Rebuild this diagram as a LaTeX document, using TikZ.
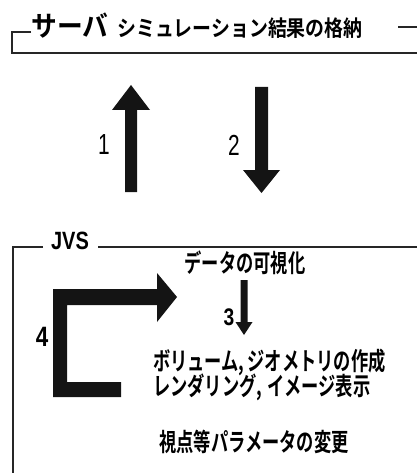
\documentclass[tikz,border=0pt]{standalone}
\usepackage{fontspec}
\newfontfamily\jpwide[FakeStretch=0.86]{Noto Sans CJK JP Bold}
\newfontfamily\jpbig[FakeStretch=0.92]{Noto Sans CJK JP Bold}
\newfontfamily\jpnarrow[FakeStretch=0.69]{Noto Sans CJK JP Bold}
\newfontfamily\latn[FakeStretch=0.72]{Liberation Sans}
\newfontfamily\latnb[FakeStretch=0.8]{Liberation Sans Bold}
\tikzset{
  frame/.style={line width=1.3pt, draw=black!85},
  bigarrow/.style={fill=black!92, draw=none},
  lbl/.style={inner sep=0pt, text=black},
}
\begin{document}
\begin{tikzpicture}[x=1pt,y=-1pt]
\useasboundingbox (0,0) rectangle (417,473);
% server frame
\draw[frame] (31,32) -- (12,32) -- (12,53) -- (417,53);
\draw[frame] (398,27) -- (417,27);
\node[lbl] (srv) at (70,26) {\jpbig\fontsize{28}{30}\selectfont サーバ};
\node[lbl] (sim) at (240,28) {\jpwide\fontsize{22}{24}\selectfont シミュレーション結果の格納};
% arrows 1 and 2
\fill[bigarrow] (125,192) -- (125,110) -- (112,110) -- (131,85) -- (150,110) -- (137,110) -- (137,192) -- cycle;
\fill[bigarrow] (255,87) -- (268,87) -- (268,170) -- (280,170) -- (261.5,193) -- (243,170) -- (255,170) -- cycle;
\node[lbl] (n1) at (104,145) {\latn\fontsize{29}{30}\selectfont 1};
\node[lbl] (n2) at (234,145) {\latn\fontsize{29}{30}\selectfont 2};
% JVS frame
\draw[frame] (43,247) -- (13,247) -- (13,473);
\draw[frame] (98,247) -- (417,247);
\node[lbl] (jvs) at (70,241) {\latnb\fontsize{25}{26}\selectfont JVS};
\node[lbl] (viz) at (245,263) {\jpnarrow\fontsize{25}{26}\selectfont データの可視化};
% arrow 3
\fill[bigarrow] (240.5,280) -- (247.5,280) -- (247.5,322) -- (252.5,322) -- (244,335) -- (235.5,322) -- (240.5,322) -- cycle;
\node[lbl] (n3) at (229,317) {\latnb\fontsize{24}{26}\selectfont 3};
% arrow 4
\fill[bigarrow] (53,289) -- (157,289) -- (157,273) -- (177,297) -- (157,322) -- (157,305) -- (67,305) -- (67,382) -- (121,382) -- (121,397) -- (53,397) -- cycle;
\node[lbl] (n4) at (42,337) {\latnb\fontsize{28}{30}\selectfont 4};
% texts
\node[lbl, anchor=west] (vol) at (153,362) {\jpnarrow\fontsize{25}{26}\selectfont ボリューム,\hspace{3pt}ジオメトリの作成};
\node[lbl, anchor=west] (ren) at (153,387) {\jpnarrow\fontsize{25}{26}\selectfont レンダリング,\hspace{5pt}イメージ表示};
\node[lbl] (par) at (254,442) {\jpnarrow\fontsize{25}{26}\selectfont 視点等パラメータの変更};
\end{tikzpicture}
\end{document}
